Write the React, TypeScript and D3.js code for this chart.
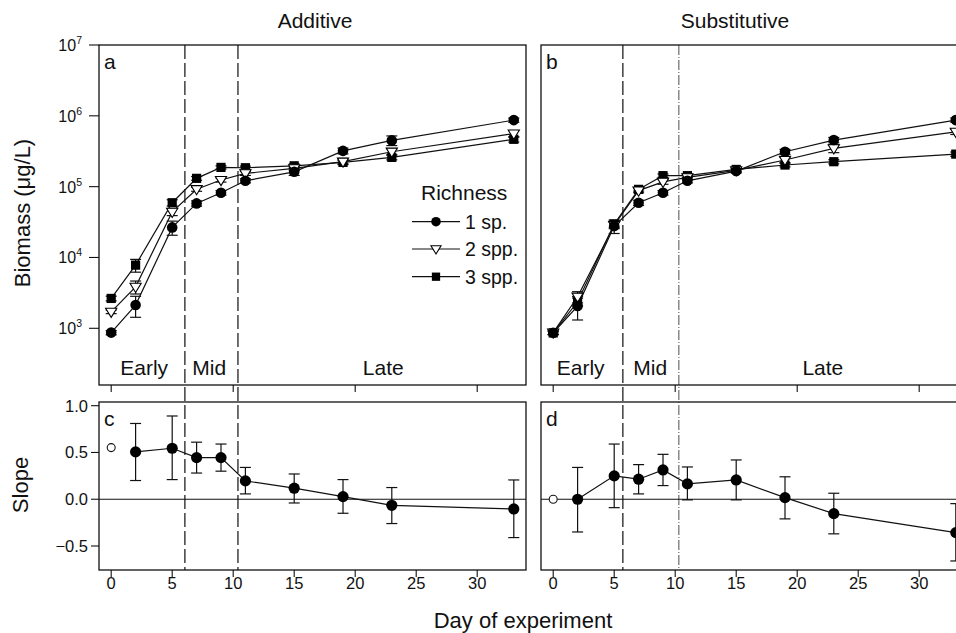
import React from "react";
import * as d3 from "d3";

const W = 956;
const H = 633;
const FONT = "'Liberation Sans', Arial, Helvetica, sans-serif";

// sampling days
const days = [0, 2, 5, 7, 9, 11, 15, 19, 23, 33];

// biomass (µg/L), additive design
const add1 = [870, 2130, 26600, 58000, 82000, 121000, 162000, 320000, 450000, 870000];
const add1Err = [60, 700, 6000, 5000, 6000, 8000, 18000, 30000, 70000, 60000];
const add2 = [1710, 3850, 44000, 92000, 124000, 154000, 181000, 225000, 311000, 560000];
const add2Err = [100, 800, 5000, 6000, 8000, 10000, 12000, 15000, 30000, 60000];
const add3 = [2640, 7800, 59300, 131000, 187000, 185000, 197000, 220000, 259000, 466000];
const add3Err = [200, 1600, 6000, 8000, 10000, 10000, 12000, 15000, 20000, 40000];

// biomass (µg/L), substitutive design
const sub1 = [865, 2060, 27800, 59300, 82000, 121000, 166000, 311000, 455000, 870000];
const sub1Err = [50, 750, 6000, 5000, 6000, 8000, 10000, 25000, 40000, 60000];
const sub2 = [870, 2790, 28500, 88000, 117000, 135000, 170000, 238000, 347000, 595000];
const sub2Err = [50, 500, 3000, 6000, 9000, 9000, 10000, 20000, 45000, 50000];
const sub3 = [860, 2370, 29700, 91600, 143000, 143000, 175000, 202000, 225000, 288000];
const sub3Err = [50, 300, 3000, 5000, 8000, 8000, 10000, 12000, 15000, 20000];

// richness slopes (day 0 is the open circle, no bar)
const slopeAdd = [0.552, 0.506, 0.545, 0.445, 0.445, 0.196, 0.118, 0.028, -0.065, -0.104];
const slopeAddLo = [null, 0.2, 0.21, 0.28, 0.3, 0.057, -0.04, -0.15, -0.26, -0.41];
const slopeAddHi = [null, 0.81, 0.89, 0.61, 0.59, 0.34, 0.27, 0.21, 0.125, 0.206];
const slopeSub = [0, 0.0, 0.25, 0.214, 0.313, 0.164, 0.206, 0.017, -0.154, -0.357];
const slopeSubLo = [null, -0.35, -0.09, 0.057, 0.146, -0.007, -0.007, -0.21, -0.37, -0.66];
const slopeSubHi = [null, 0.34, 0.59, 0.37, 0.48, 0.345, 0.42, 0.24, 0.064, -0.047];

// phase boundaries and labels (days)
const addBounds = [6.04, 10.39];
const subBounds = [5.71, 10.3];
const phaseNames = ["Early", "Mid", "Late"];
const addPhasePos = [2.7, 8.03, 22.3];
const subPhasePos = [2.25, 7.95, 22.1];

const bioTicks = [1e3, 1e4, 1e5, 1e6, 1e7];
const slopeTicks = [1.0, 0.5, 0.0, -0.5];
const dayTicks = [0, 5, 10, 15, 20, 25, 30];
const dayTicksTop = [0, 10, 20, 30];
const legendLabels = ["1 sp.", "2 spp.", "3 spp."];

const TOP = { y0: 45, y1: 385 };
const BOT = { y0: 402, y1: 570 };

const xA = d3.scaleLinear().domain([-1, 34]).range([99, 526]);
const xB = d3.scaleLinear().domain([-1, 34]).range([541, 968]);
const yBio = d3.scaleLog().domain([1e3, 1e7]).range([328.3, 45]);
const ySlope = d3.scaleLinear().domain([-0.5, 1]).range([546, 405.7]);

function Marker({ kind, x, y, s = 1 }) {
  if (kind === 0) return <circle cx={x} cy={y} r={5.3 * s} fill="#000" />;
  if (kind === 1)
    return (
      <path
        d={`M${x - 5.6 * s},${y - 3.6 * s}L${x + 5.6 * s},${y - 3.6 * s}L${x},${y + 5.6 * s}Z`}
        fill="#fff"
        stroke="#000"
        strokeWidth={1.1}
      />
    );
  return <rect x={x - 4.6 * s} y={y - 4.6 * s} width={9.2 * s} height={9.2 * s} fill="#000" />;
}

function ErrBar({ x, lo, hi }) {
  return (
    <g stroke="#111" strokeWidth={1.2}>
      <line x1={x} x2={x} y1={lo} y2={hi} />
      <line x1={x - 5.5} x2={x + 5.5} y1={lo} y2={lo} />
      <line x1={x - 5.5} x2={x + 5.5} y1={hi} y2={hi} />
    </g>
  );
}

function BiomassPanel({ x, series, errs, phasePos, label }) {
  const line = d3
    .line()
    .x((d) => x(d[0]))
    .y((d) => yBio(d[1]));
  const order = [2, 1, 0];
  return (
    <g>
      {order.map((k) => (
        <g key={"e" + k}>
          {days.map((d, i) => (
            <ErrBar
              key={i}
              x={x(d)}
              lo={yBio(series[k][i] - errs[k][i])}
              hi={yBio(series[k][i] + errs[k][i])}
            />
          ))}
        </g>
      ))}
      {order.map((k) => (
        <path
          key={"l" + k}
          d={line(days.map((d, i) => [d, series[k][i]]))}
          fill="none"
          stroke="#111"
          strokeWidth={1.2}
        />
      ))}
      {order.map((k) => (
        <g key={"m" + k}>
          {days.map((d, i) => (
            <Marker key={i} kind={k} x={x(d)} y={yBio(series[k][i])} />
          ))}
        </g>
      ))}
      {phaseNames.map((p, i) => (
        <text key={p} x={x(phasePos[i])} y={375} textAnchor="middle" fontSize={21}>
          {p}
        </text>
      ))}
      <text x={x.range()[0] + 5} y={69} fontSize={21}>
        {label}
      </text>
      <rect
        x={x.range()[0]}
        y={TOP.y0}
        width={x.range()[1] - x.range()[0]}
        height={TOP.y1 - TOP.y0}
        fill="none"
        stroke="#111"
        strokeWidth={1.3}
      />
      {dayTicksTop.map((t) => (
        <line key={t} x1={x(t)} x2={x(t)} y1={TOP.y1} y2={TOP.y1 + 7} stroke="#111" strokeWidth={1.1} />
      ))}
    </g>
  );
}

function SlopePanel({ x, vals, lo, hi, label }) {
  const line = d3
    .line()
    .x((d) => x(d[0]))
    .y((d) => ySlope(d[1]));
  const pts = days.map((d, i) => [d, vals[i]]).slice(1);
  return (
    <g>
      <line
        x1={x.range()[0]}
        x2={x.range()[1]}
        y1={ySlope(0)}
        y2={ySlope(0)}
        stroke="#111"
        strokeWidth={1.2}
      />
      {days.map((d, i) =>
        lo[i] == null ? null : (
          <ErrBar key={i} x={x(d)} lo={ySlope(lo[i])} hi={ySlope(hi[i])} />
        )
      )}
      <path d={line(pts)} fill="none" stroke="#111" strokeWidth={1.2} />
      {pts.map((p, i) => (
        <circle key={i} cx={x(p[0])} cy={ySlope(p[1])} r={5.6} fill="#000" />
      ))}
      <circle cx={x(days[0])} cy={ySlope(vals[0])} r={4} fill="#fff" stroke="#111" strokeWidth={1.1} />
      <text x={x.range()[0] + 5} y={426} fontSize={21}>
        {label}
      </text>
      <rect
        x={x.range()[0]}
        y={BOT.y0}
        width={x.range()[1] - x.range()[0]}
        height={BOT.y1 - BOT.y0}
        fill="none"
        stroke="#111"
        strokeWidth={1.3}
      />
      {dayTicks.map((t) => (
        <g key={t}>
          <line x1={x(t)} x2={x(t)} y1={BOT.y1} y2={BOT.y1 + 7} stroke="#111" strokeWidth={1.1} />
          <text x={x(t)} y={589} textAnchor="middle" fontSize={16.5}>
            {t}
          </text>
        </g>
      ))}
    </g>
  );
}

function PhaseLines({ x, bounds, second }) {
  return (
    <g stroke="#222" fill="none">
      <line
        x1={x(bounds[0])}
        x2={x(bounds[0])}
        y1={TOP.y0}
        y2={BOT.y1}
        strokeWidth={1.3}
        strokeDasharray="14,4"
      />
      <line
        x1={x(bounds[1])}
        x2={x(bounds[1])}
        y1={TOP.y0}
        y2={BOT.y1}
        strokeWidth={second === "thin" ? 0.8 : 1.3}
        strokeDasharray={second === "thin" ? "10,2,1,2" : "14,4"}
      />
    </g>
  );
}

export default function App() {
  const legendRows = [221.7, 249, 276.7];
  return (
    <svg
      width={W}
      height={H}
      style={{ position: "absolute", left: 0, top: 0, background: "#fff" }}
      fontFamily={FONT}
      fill="#111"
    >
      <text x={315} y={28} textAnchor="middle" fontSize={21}>
        Additive
      </text>
      <text x={735} y={28} textAnchor="middle" fontSize={21}>
        Substitutive
      </text>

      <PhaseLines x={xA} bounds={addBounds} second="dash" />
      <PhaseLines x={xB} bounds={subBounds} second="thin" />

      <BiomassPanel
        x={xA}
        series={[add1, add2, add3]}
        errs={[add1Err, add2Err, add3Err]}
        phasePos={addPhasePos}
        label="a"
      />
      <BiomassPanel
        x={xB}
        series={[sub1, sub2, sub3]}
        errs={[sub1Err, sub2Err, sub3Err]}
        phasePos={subPhasePos}
        label="b"
      />
      <SlopePanel x={xA} vals={slopeAdd} lo={slopeAddLo} hi={slopeAddHi} label="c" />
      <SlopePanel x={xB} vals={slopeSub} lo={slopeSubLo} hi={slopeSubHi} label="d" />

      {/* y axis: biomass */}
      {bioTicks.map((t) => (
        <g key={t}>
          <line x1={89} x2={99} y1={yBio(t)} y2={yBio(t)} stroke="#111" strokeWidth={1.1} />
          <text x={82} y={yBio(t) + 6} textAnchor="end" fontSize={16}>
            10
            <tspan fontSize={10.5} dy={-7}>
              {Math.round(Math.log10(t))}
            </tspan>
          </text>
        </g>
      ))}
      {/* y axis: slope */}
      {slopeTicks.map((t) => (
        <g key={t}>
          <line x1={91} x2={99} y1={ySlope(t)} y2={ySlope(t)} stroke="#111" strokeWidth={1.1} />
          <text x={88} y={ySlope(t) + 6} textAnchor="end" fontSize={16.5}>
            {t === 0 ? "0.0" : d3.format(".1f")(t).replace("-", "\u2212")}
          </text>
        </g>
      ))}

      <text transform="translate(30,213) rotate(-90)" textAnchor="middle" fontSize={22}>
        Biomass (μg/L)
      </text>
      <text transform="translate(28,485) rotate(-90)" textAnchor="middle" fontSize={22}>
        Slope
      </text>
      <text x={523} y={628} textAnchor="middle" fontSize={22}>
        Day of experiment
      </text>

      {/* legend */}
      <text x={421} y={200} fontSize={21}>
        Richness
      </text>
      {legendLabels.map((l, k) => (
        <g key={l}>
          <line x1={412} x2={460} y1={legendRows[k]} y2={legendRows[k]} stroke="#111" strokeWidth={1.2} />
          <Marker kind={k} x={436} y={legendRows[k]} s={0.9} />
          <text x={465} y={legendRows[k] + 7} fontSize={19.5}>
            {l}
          </text>
        </g>
      ))}
    </svg>
  );
}
